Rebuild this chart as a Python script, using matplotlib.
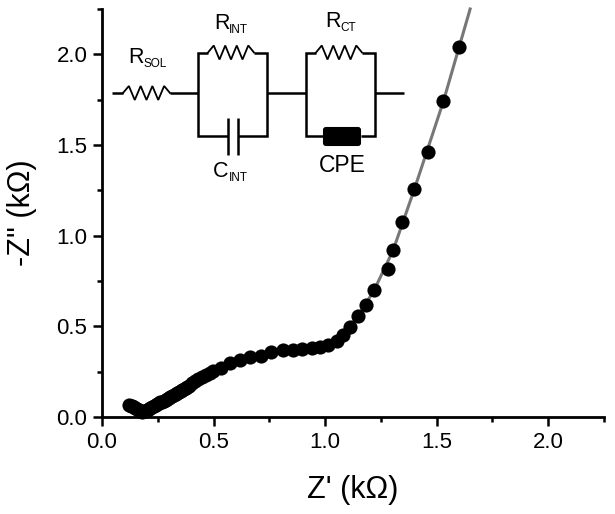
import numpy as np
import matplotlib
matplotlib.use("Agg")
import matplotlib.pyplot as plt
from matplotlib.patches import FancyBboxPatch

plt.rcParams["font.family"] = ["Liberation Sans", "DejaVu Sans"]

z_real = [0.12, 0.128, 0.135, 0.142, 0.148, 0.156, 0.165, 0.172, 0.18, 0.187, 0.195, 0.202,
          0.21, 0.217, 0.225, 0.232, 0.24, 0.247, 0.255, 0.262, 0.27, 0.277, 0.285, 0.292,
          0.30, 0.307, 0.315, 0.322, 0.33, 0.337, 0.345, 0.352, 0.36, 0.367, 0.375, 0.382,
          0.39, 0.404, 0.417, 0.43, 0.448, 0.466, 0.482, 0.498, 0.534,
          0.574, 0.619, 0.664, 0.713, 0.758, 0.81, 0.856, 0.897, 0.94, 0.978, 1.013,
          1.054, 1.08, 1.112, 1.148, 1.184, 1.22, 1.283, 1.305, 1.345, 1.40, 1.46, 1.53, 1.60]
z_imag = [0.066, 0.062, 0.058, 0.053, 0.048, 0.042, 0.036, 0.032, 0.028, 0.031, 0.035, 0.04,
          0.045, 0.05, 0.055, 0.06, 0.065, 0.07, 0.075, 0.08, 0.085, 0.09, 0.096, 0.101,
          0.107, 0.112, 0.118, 0.123, 0.128, 0.133, 0.138, 0.143, 0.149, 0.154, 0.16, 0.166,
          0.172, 0.187, 0.198, 0.209, 0.22, 0.231, 0.242, 0.253, 0.27,
          0.297, 0.314, 0.33, 0.338, 0.358, 0.369, 0.369, 0.375, 0.38, 0.386, 0.397,
          0.419, 0.452, 0.496, 0.556, 0.617, 0.70, 0.815, 0.92, 1.074, 1.256, 1.46, 1.74, 2.04]

# fitted curve
fit_real = [0.12, 0.18, 0.404, 0.574, 0.758, 0.94, 1.054, 1.148, 1.22, 1.305, 1.40, 1.53, 1.65]
fit_imag = [0.066, 0.028, 0.187, 0.297, 0.358, 0.38, 0.419, 0.556, 0.70, 0.92, 1.256, 1.74, 2.25]

x_ticks = [0.0, 0.5, 1.0, 1.5, 2.0]
y_ticks = [0.0, 0.5, 1.0, 1.5, 2.0]
x_minor = [0.25, 0.75, 1.25, 1.75, 2.25]
y_minor = [0.25, 0.75, 1.25, 1.75, 2.25]

W, H = 615, 514
fig = plt.figure(figsize=(W / 100, H / 100), dpi=100)
ax = fig.add_axes([102 / W, 1 - 417 / H, (604 - 102) / W, (417 - 9) / H])
ax.plot(fit_real, fit_imag, color="#777777", lw=2.2, zorder=2, clip_on=False)
ax.plot(z_real, z_imag, "o", color="black", ms=10.2, mew=0, zorder=3, clip_on=False)

ax.set_xlim(0, 2.25)
ax.set_ylim(0, 2.25)
ax.set_xticks(x_ticks)
ax.set_yticks(y_ticks)
ax.set_xticks(x_minor, minor=True)
ax.set_yticks(y_minor, minor=True)
ax.set_xticklabels(["%.1f" % t for t in x_ticks])
ax.set_yticklabels(["%.1f" % t for t in y_ticks])
ax.tick_params(which="major", length=6.5, width=1.8, labelsize=16, pad=4)
ax.tick_params(which="minor", length=3.5, width=1.8)
for side in ["top", "right"]:
    ax.spines[side].set_visible(False)
for side in ["left", "bottom"]:
    ax.spines[side].set_linewidth(2.0)
ax.set_xlabel("Z' (k\u03a9)", fontsize=22, labelpad=16)
ax.set_ylabel('-Z" (k\u03a9)', fontsize=22, labelpad=14)

# circuit inset, overlay axes in pixel coordinates
cir = fig.add_axes([0, 0, 1, 1], facecolor="none")
cir.set_xlim(0, W)
cir.set_ylim(H, 0)
cir.axis("off")


def wire(xs, ys):
    cir.plot(xs, ys, color="black", lw=1.8, solid_joinstyle="miter", solid_capstyle="butt")


def resistor(x0, x1, y):
    xs = np.linspace(x0, x1, 9)
    ys = [y] + [y + (-1) ** (i + 1) * 7 for i in range(7)] + [y]
    cir.plot(xs, ys, color="black", lw=1.3, solid_joinstyle="miter")


def label(x, y, main, sub=None, sub_x=0, size=15.5):
    cir.text(x, y, main, fontsize=size, ha="left", va="baseline")
    if sub:
        cir.text(sub_x, y + 4, sub, fontsize=8.5, ha="left", va="baseline")


# series resistor
wire([112, 123], [93, 93])
resistor(123, 170, 93)
wire([170, 198], [93, 93])

# first parallel block
wire([208, 198, 198, 228], [52.5, 52.5, 136, 136])
wire([254, 267, 267, 238], [52.5, 52.5, 136, 136])
resistor(208, 254, 52.5)
wire([228, 228], [118, 155])
wire([238, 238], [118, 155])
wire([267, 306], [93, 93])

# second parallel block
wire([316, 306, 306, 323], [52.5, 52.5, 136, 136])
wire([362, 375, 375, 361], [52.5, 52.5, 136, 136])
resistor(316, 362, 52.5)
cir.add_patch(FancyBboxPatch((324, 128), 36, 17, boxstyle="round,pad=0,rounding_size=2",
                             mutation_aspect=1, fc="black", ec="black", lw=1.5))
wire([375, 404], [93, 93])

label(128, 63, "R", "SOL", 143)
label(214, 29, "R", "INT", 229)
label(325, 27, "R", "CT", 340)
label(213, 177, "C", "INT", 229)
label(319, 172, "CPE", size=16.5)

fig.savefig("out.png", dpi=100)
